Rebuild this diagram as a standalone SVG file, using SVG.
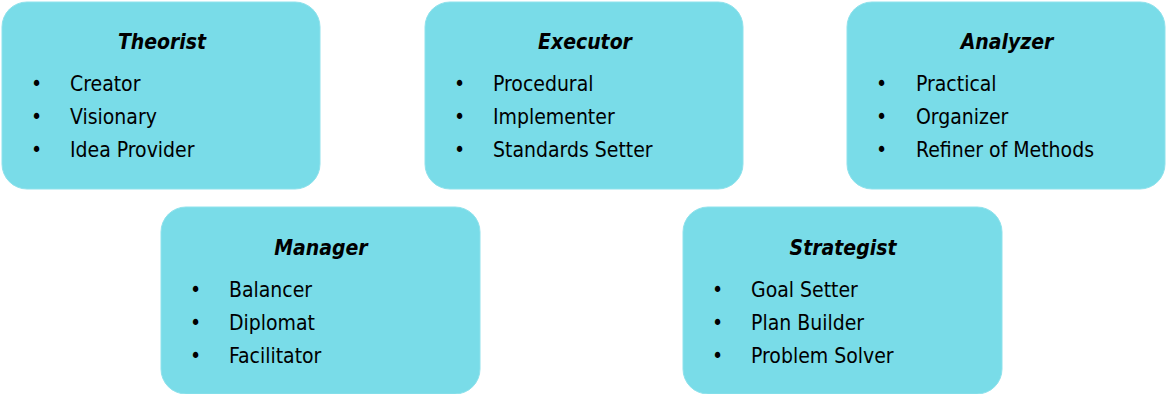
<svg xmlns="http://www.w3.org/2000/svg" width="1166" height="394" viewBox="0 0 1166 394">
<style>
.box{fill:#79dce8;stroke:#8fe2ec;stroke-width:1}
.t{font-family:"DejaVu Sans Condensed","DejaVu Sans",sans-serif;font-stretch:condensed;font-size:21px;fill:#000}
.h{font-weight:bold;font-style:italic;text-anchor:middle}
.b{font-size:21px}
</style>
<rect width="1166" height="394" fill="#fff"/>
<g id="theorist">
<rect class="box" x="2" y="2" width="318" height="187" rx="25"/>
<text class="t h" x="162" y="49">Theorist</text>
<text class="t b" x="31" y="91">•</text><text class="t" x="70" y="91">Creator</text>
<text class="t b" x="31" y="124">•</text><text class="t" x="70" y="124">Visionary</text>
<text class="t b" x="31" y="157">•</text><text class="t" x="70" y="157">Idea Provider</text>
</g>
<g id="executor">
<rect class="box" x="425" y="2" width="318" height="187" rx="25"/>
<text class="t h" x="585" y="49">Executor</text>
<text class="t b" x="454" y="91">•</text><text class="t" x="493" y="91">Procedural</text>
<text class="t b" x="454" y="124">•</text><text class="t" x="493" y="124">Implementer</text>
<text class="t b" x="454" y="157">•</text><text class="t" x="493" y="157">Standards Setter</text>
</g>
<g id="analyzer">
<rect class="box" x="847" y="2" width="318" height="187" rx="25"/>
<text class="t h" x="1007" y="49">Analyzer</text>
<text class="t b" x="876" y="91">•</text><text class="t" x="916" y="91">Practical</text>
<text class="t b" x="876" y="124">•</text><text class="t" x="916" y="124">Organizer</text>
<text class="t b" x="876" y="157">•</text><text class="t" x="916" y="157">Refiner of Methods</text>
</g>
<g id="manager">
<rect class="box" x="161" y="207" width="319" height="187" rx="25"/>
<text class="t h" x="321" y="255">Manager</text>
<text class="t b" x="190" y="297">•</text><text class="t" x="229" y="297">Balancer</text>
<text class="t b" x="190" y="330">•</text><text class="t" x="229" y="330">Diplomat</text>
<text class="t b" x="190" y="363">•</text><text class="t" x="229" y="363">Facilitator</text>
</g>
<g id="strategist">
<rect class="box" x="683" y="207" width="319" height="187" rx="25"/>
<text class="t h" x="843" y="255">Strategist</text>
<text class="t b" x="712" y="297">•</text><text class="t" x="751" y="297">Goal Setter</text>
<text class="t b" x="712" y="330">•</text><text class="t" x="751" y="330">Plan Builder</text>
<text class="t b" x="712" y="363">•</text><text class="t" x="751" y="363">Problem Solver</text>
</g>
<g id="connectors"/>
</svg>
